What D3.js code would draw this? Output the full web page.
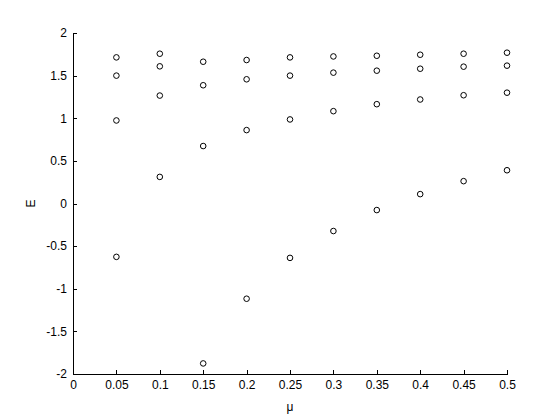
<!DOCTYPE html>
<html lang="en">
<head>
<meta charset="UTF-8">
<style>
  body { margin: 0; background: #fff; }
  svg text { font-family: "Liberation Sans", Arial, sans-serif; font-size: 12px; fill: #000; }
</style>
</head>
<body>
<svg id="chart" width="560" height="420"></svg>
<script src="https://d3js.org/d3.v7.min.js"></script>
<script>
// mu values and the four energy levels
var mu = [0.05, 0.1, 0.15, 0.2, 0.25, 0.3, 0.35, 0.4, 0.45, 0.5];
var level1 = [-0.626, 0.312, -1.876, -1.117, -0.638, -0.323, -0.077, 0.110, 0.262, 0.390];
var level2 = [0.974, 1.266, 0.674, 0.861, 0.986, 1.083, 1.165, 1.220, 1.270, 1.300];
var level3 = [1.500, 1.609, 1.387, 1.457, 1.500, 1.535, 1.558, 1.581, 1.605, 1.617];
var level4 = [1.714, 1.757, 1.663, 1.683, 1.714, 1.725, 1.733, 1.745, 1.757, 1.769];
var xTicks = [0, 0.05, 0.1, 0.15, 0.2, 0.25, 0.3, 0.35, 0.4, 0.45, 0.5];
var yTicks = [-2, -1.5, -1, -0.5, 0, 0.5, 1, 1.5, 2];

var svg = d3.select("#chart");
var plotL = 73, plotR = 507, plotT = 33, plotB = 374;

var x = d3.scaleLinear().domain([0, 0.5]).range([plotL, plotR]);
var y = d3.scaleLinear().domain([-2, 2]).range([plotB, plotT]);

// axes, ticks pointing inward like matlab
var xAxis = d3.axisBottom(x).tickValues(xTicks).tickSizeInner(-4).tickSizeOuter(0)
  .tickPadding(6).tickFormat(function(d) { return String(+d.toFixed(2)); });
var yAxis = d3.axisLeft(y).tickValues(yTicks).tickSizeInner(-4).tickSizeOuter(0)
  .tickPadding(6).tickFormat(function(d) { return String(d); });

var gx = svg.append("g").attr("transform", "translate(0," + plotB + ")").call(xAxis);
var gy = svg.append("g").attr("transform", "translate(" + plotL + ",0)").call(yAxis);
[gx, gy].forEach(function(g) {
  g.selectAll("path, line").attr("stroke", "#000").attr("shape-rendering", "crispEdges");
  g.selectAll("text").attr("font-family", "Liberation Sans, Arial, sans-serif").attr("font-size", 12);
});

// points
var pts = [];
[level1, level2, level3, level4].forEach(function(s) {
  s.forEach(function(v, i) { pts.push([mu[i], v]); });
});
svg.append("g").selectAll("circle")
  .data(pts).enter().append("circle")
  .attr("cx", function(d) { return x(d[0]); })
  .attr("cy", function(d) { return y(d[1]); })
  .attr("r", 2.8)
  .attr("fill", "none")
  .attr("stroke", "#000")
  .attr("stroke-width", 1);

// labels
svg.append("text").attr("x", (plotL + plotR) / 2).attr("y", 411)
  .attr("text-anchor", "middle").text("μ");
svg.append("text").attr("transform", "translate(35," + (plotT + plotB) / 2 + ") rotate(-90)")
  .attr("text-anchor", "middle").text("E");
</script>
</body>
</html>
